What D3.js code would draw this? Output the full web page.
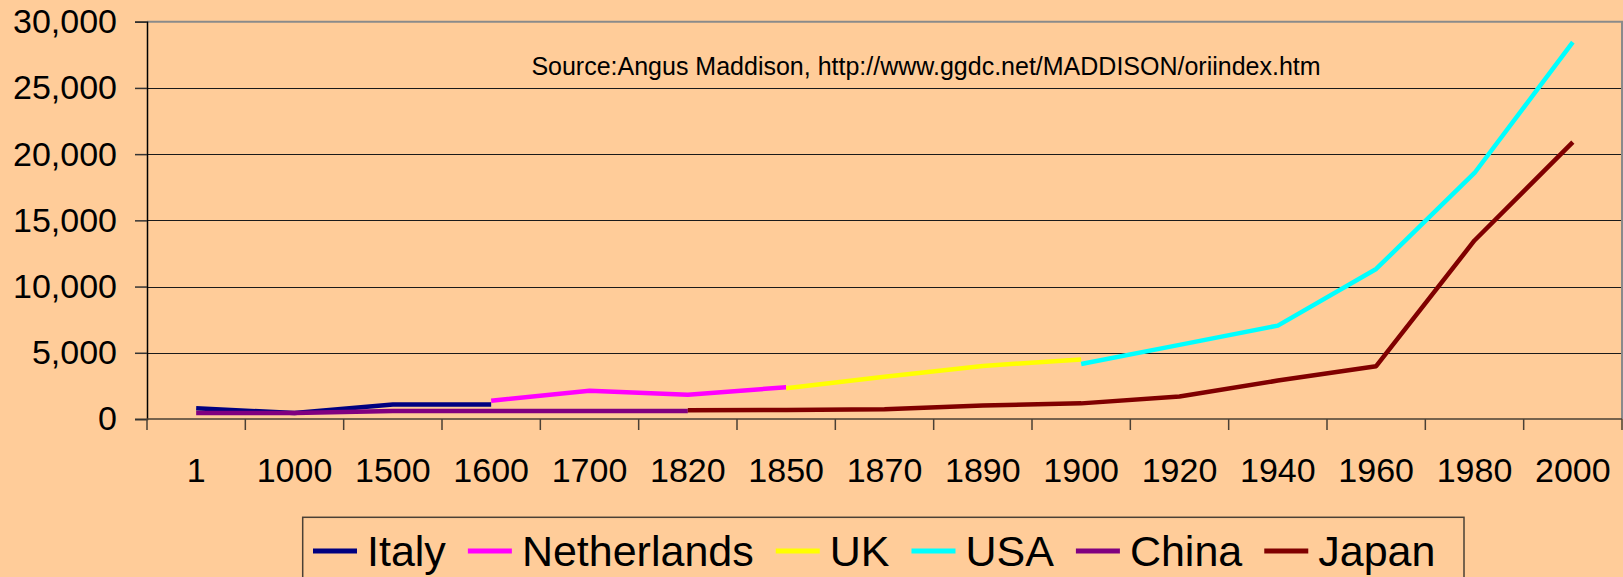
<!DOCTYPE html>
<html>
<head>
<meta charset="utf-8">
<script src="https://cdn.jsdelivr.net/npm/d3@7"></script>
<style>
  html, body { margin: 0; padding: 0; background: #FFCC99; }
  svg { display: block; }
  text { font-family: "Liberation Sans", Arial, sans-serif; fill: #000; }
</style>
</head>
<body>
<svg id="chart" width="1623" height="577"></svg>
<script>
// GDP per head, 1990 int. dollars
const years = ["1", "1000", "1500", "1600", "1700", "1820", "1850", "1870",
    "1890", "1900", "1920", "1940", "1960", "1980", "2000"];

const italy       = [809, 450, 1100, 1100, null, null, null, null, null, null, null, null, null, null, null];
const netherlands = [null, null, null, 1381, 2130, 1838, 2400, null, null, null, null, null, null, null, null];
const uk          = [null, null, null, null, null, null, 2330, 3190, 4009, 4492, null, null, null, null, null];
const usa         = [null, null, null, null, null, null, null, null, null, 4150, 5600, 7050, 11328, 18577, 28450];
const china       = [450, 450, 600, 600, 600, 600, null, null, null, null, null, null, null, null, null];
const japan       = [null, null, null, null, null, 669, 679, 737, 1012, 1180, 1696, 2900, 3990, 13480, 20900];

const seriesNames  = ["Italy", "Netherlands", "UK", "USA", "China", "Japan"];
const seriesValues = [italy, netherlands, uk, usa, china, japan];
const seriesColors = ["#000080", "#FF00FF", "#FFFF00", "#00FFFF", "#800080", "#800000"];

const yTicks = [0, 5000, 10000, 15000, 20000, 25000, 30000];
const sourceText = "Source:Angus Maddison, http://www.ggdc.net/MADDISON/oriindex.htm";

const svg = d3.select("#chart");

// Plot area.
let plotLeft = 147, plotRight = 1622, plotTop = 21.7, plotBottom = 419;

let x = d3.scaleBand().domain(years).range([plotLeft, plotRight]).padding(0);
let y = d3.scaleLinear().domain([0, 30000]).range([plotBottom, plotTop]);

// Horizontal gridlines.
svg.append("g")
    .selectAll("line")
    .data(yTicks.slice(1, -1))
    .join("line")
    .attr("x1", plotLeft)
    .attr("x2", plotRight)
    .attr("y1", d => Math.round(y(d)) + 0.5)
    .attr("y2", d => Math.round(y(d)) + 0.5)
    .attr("stroke", "#1a1a1a")
    .attr("stroke-width", 1);

// Top and right frame.
svg.append("path")
    .attr("d", `M${plotLeft},${plotTop}H${plotRight}V${plotBottom}`)
    .attr("fill", "none")
    .attr("stroke", "#8a8a8a")
    .attr("stroke-width", 2);

// Y axis.
let yAxis = d3.axisLeft(y)
    .tickValues(yTicks)
    .tickSize(12)
    .tickPadding(18)
    .tickFormat(d3.format(","));

svg.append("g")
    .attr("transform", `translate(${plotLeft},0)`)
    .call(yAxis)
    .call(g => g.select(".domain").attr("stroke", "#000").attr("stroke-width", 1.5))
    .call(g => g.selectAll(".tick line").attr("stroke", "#333").attr("stroke-width", 1.5))
    .call(g => g.selectAll(".tick text")
        .attr("font-size", "34px")
        .attr("font-family", "'Liberation Sans', Arial, sans-serif")
        .attr("fill", "#000"));

// X axis: ticks sit on the band edges, labels in the band centres.
let edges = years.map(d => x(d)).concat([plotRight]);

let xAxis = svg.append("g");

xAxis.append("line")
    .attr("x1", plotLeft)
    .attr("x2", plotRight)
    .attr("y1", plotBottom)
    .attr("y2", plotBottom)
    .attr("stroke", "#4a4035")
    .attr("stroke-width", 1.5);

xAxis.selectAll(".edge")
    .data(edges)
    .join("line")
    .attr("class", "edge")
    .attr("x1", d => d)
    .attr("x2", d => d)
    .attr("y1", plotBottom)
    .attr("y2", plotBottom + 11)
    .attr("stroke", "#4a4035")
    .attr("stroke-width", 1.5);

xAxis.selectAll("text")
    .data(years)
    .join("text")
    .attr("x", d => x(d) + x.bandwidth() / 2)
    .attr("y", 482)
    .attr("text-anchor", "middle")
    .attr("font-size", "34px")
    .text(d => d);

// Source note.
svg.append("text")
    .attr("x", 926)
    .attr("y", 75)
    .attr("text-anchor", "middle")
    .attr("font-size", "25px")
    .text(sourceText);

// Series lines.
let line = d3.line()
    .defined(d => d !== null)
    .x((d, i) => x(years[i]) + x.bandwidth() / 2)
    .y(d => y(d));

svg.append("g")
    .selectAll("path")
    .data(seriesValues)
    .join("path")
    .attr("d", d => line(d))
    .attr("fill", "none")
    .attr("stroke", (d, i) => seriesColors[i])
    .attr("stroke-width", 4.5)
    .attr("stroke-linejoin", "round");

// Legend.
let legend = svg.append("g");

legend.append("rect")
    .attr("x", 302.7)
    .attr("y", 517.3)
    .attr("width", 1464 - 302.7)
    .attr("height", 100)
    .attr("fill", "none")
    .attr("stroke", "#4a4035")
    .attr("stroke-width", 1.5);

let swatchW = 44;
let textGap = 10;
let itemGap = 22;
let cursor = 313;

seriesNames.forEach(function(name, i) {
    legend.append("line")
        .attr("x1", cursor)
        .attr("x2", cursor + swatchW)
        .attr("y1", 551)
        .attr("y2", 551)
        .attr("stroke", seriesColors[i])
        .attr("stroke-width", 5);

    let label = legend.append("text")
        .attr("x", cursor + swatchW + textGap)
        .attr("y", 566)
        .attr("font-size", "43px")
        .text(name);

    cursor += swatchW + textGap + label.node().getComputedTextLength() + itemGap;
});
</script>
</body>
</html>
